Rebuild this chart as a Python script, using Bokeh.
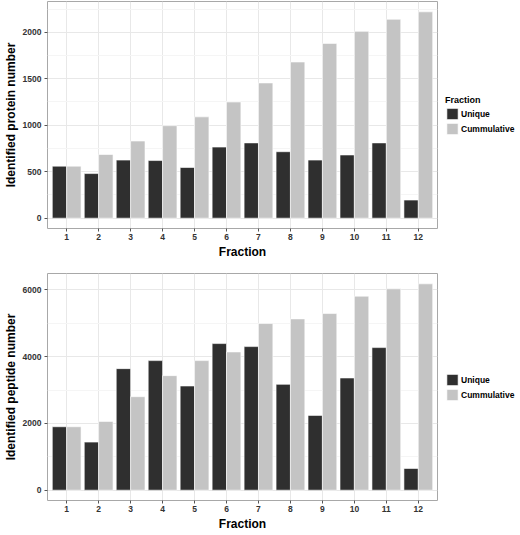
from bokeh.plotting import figure
from bokeh.models import Range1d, FixedTicker, Legend, LegendItem, ColumnDataSource
from bokeh.layouts import column
from bokeh.transform import dodge
from bokeh.embed import file_html
from bokeh.resources import INLINE

fractions = list(range(1, 13))
protein_unique = [560, 480, 625, 620, 545, 765, 810, 715, 625, 680, 810, 195]
protein_cumulative = [560, 685, 830, 995, 1090, 1250, 1455, 1680, 1880, 2010, 2140, 2220]
peptide_unique = [1900, 1440, 3640, 3880, 3120, 4390, 4300, 3170, 2240, 3360, 4270, 650]
peptide_cumulative = [1900, 2060, 2800, 3430, 3880, 4140, 4990, 5130, 5290, 5810, 6030, 6180]

protein_ticks = [0, 500, 1000, 1500, 2000]
protein_minor = [250, 750, 1250, 1750, 2250]
peptide_ticks = [0, 2000, 4000, 6000]
peptide_minor = [1000, 3000, 5000]

x_title = "Fraction"
protein_title = "Identified protein number"
peptide_title = "Identified peptide number"
legend_title = "Fraction"
series_names = ["Unique", "Cummulative"]

FONT = "Liberation Sans"
DARK = "#2f2f2f"
LIGHT = "#c4c4c4"


def make_panel(unique, cumul, ylab, ticks, minor, legend_heading, top_border):
    src = ColumnDataSource(dict(fraction=fractions, unique=unique, cumul=cumul))
    ymax = max(cumul + unique)
    pad = 0.05 * ymax
    p = figure(frame_width=390, frame_height=227, output_backend="svg",
               toolbar_location=None,
               x_range=Range1d(0.4, 12.6), y_range=Range1d(-pad, ymax + pad),
               min_border_left=0, min_border_right=0, min_border_bottom=0,
               min_border_top=top_border)
    r1 = p.vbar(x=dodge("fraction", -0.225, range=p.x_range), top="unique", bottom=0,
                width=0.45, source=src, fill_color=DARK, line_color="white", line_width=0.6)
    r2 = p.vbar(x=dodge("fraction", 0.225, range=p.x_range), top="cumul", bottom=0,
                width=0.45, source=src, fill_color=LIGHT, line_color="white", line_width=0.6)

    p.background_fill_color = "white"
    p.border_fill_color = "white"
    p.outline_line_color = "#a8a8a8"
    p.outline_line_width = 1

    p.xaxis.ticker = FixedTicker(ticks=fractions)
    p.yaxis.ticker = FixedTicker(ticks=ticks, minor_ticks=minor)
    p.xgrid.ticker = FixedTicker(ticks=fractions)

    for ax in (p.xaxis, p.yaxis):
        ax.axis_line_color = None
        ax.major_tick_line_color = "#555555"
        ax.major_tick_in = 0
        ax.major_tick_out = 3
        ax.minor_tick_line_color = None
        ax.major_label_text_font = FONT
        ax.major_label_text_font_style = "bold"
        ax.major_label_text_font_size = "8.5px"
        ax.major_label_text_color = "#333333"
        ax.major_label_standoff = 2
        ax.axis_label_text_font = FONT
        ax.axis_label_text_font_style = "bold"
        ax.axis_label_text_font_size = "12px"
        ax.axis_label_text_color = "black"
        ax.axis_label_standoff = 2

    p.xaxis.axis_label = x_title
    p.yaxis.axis_label = ylab

    p.xgrid.grid_line_color = "#e8e8e8"
    p.ygrid.grid_line_color = "#e8e8e8"
    p.ygrid.minor_grid_line_color = "#f5f5f5"

    legend = Legend(items=[LegendItem(label=series_names[0], renderers=[r1]),
                           LegendItem(label=series_names[1], renderers=[r2])],
                    location="center_left", orientation="vertical")
    if legend_heading:
        legend.title = legend_heading
        legend.title_text_font = FONT
        legend.title_text_font_style = "bold"
        legend.title_text_font_size = "9px"
        legend.title_text_color = "black"
        legend.title_standoff = 2
    legend.label_text_font = FONT
    legend.label_text_font_style = "bold"
    legend.label_text_font_size = "8.5px"
    legend.label_text_color = "black"
    legend.label_standoff = 2
    legend.label_height = 14
    legend.glyph_width = 14
    legend.glyph_height = 14
    legend.spacing = 1
    legend.padding = 0
    legend.margin = 8
    legend.border_line_color = None
    legend.background_fill_alpha = 0
    p.add_layout(legend, "right")
    return p


p1 = make_panel(protein_unique, protein_cumulative, protein_title,
                protein_ticks, protein_minor, legend_title, 1)
p2 = make_panel(peptide_unique, peptide_cumulative, peptide_title,
                peptide_ticks, peptide_minor, None, 12)

layout = column(p1, p2, spacing=0)
open("out.html", "w").write(file_html(layout, INLINE))
